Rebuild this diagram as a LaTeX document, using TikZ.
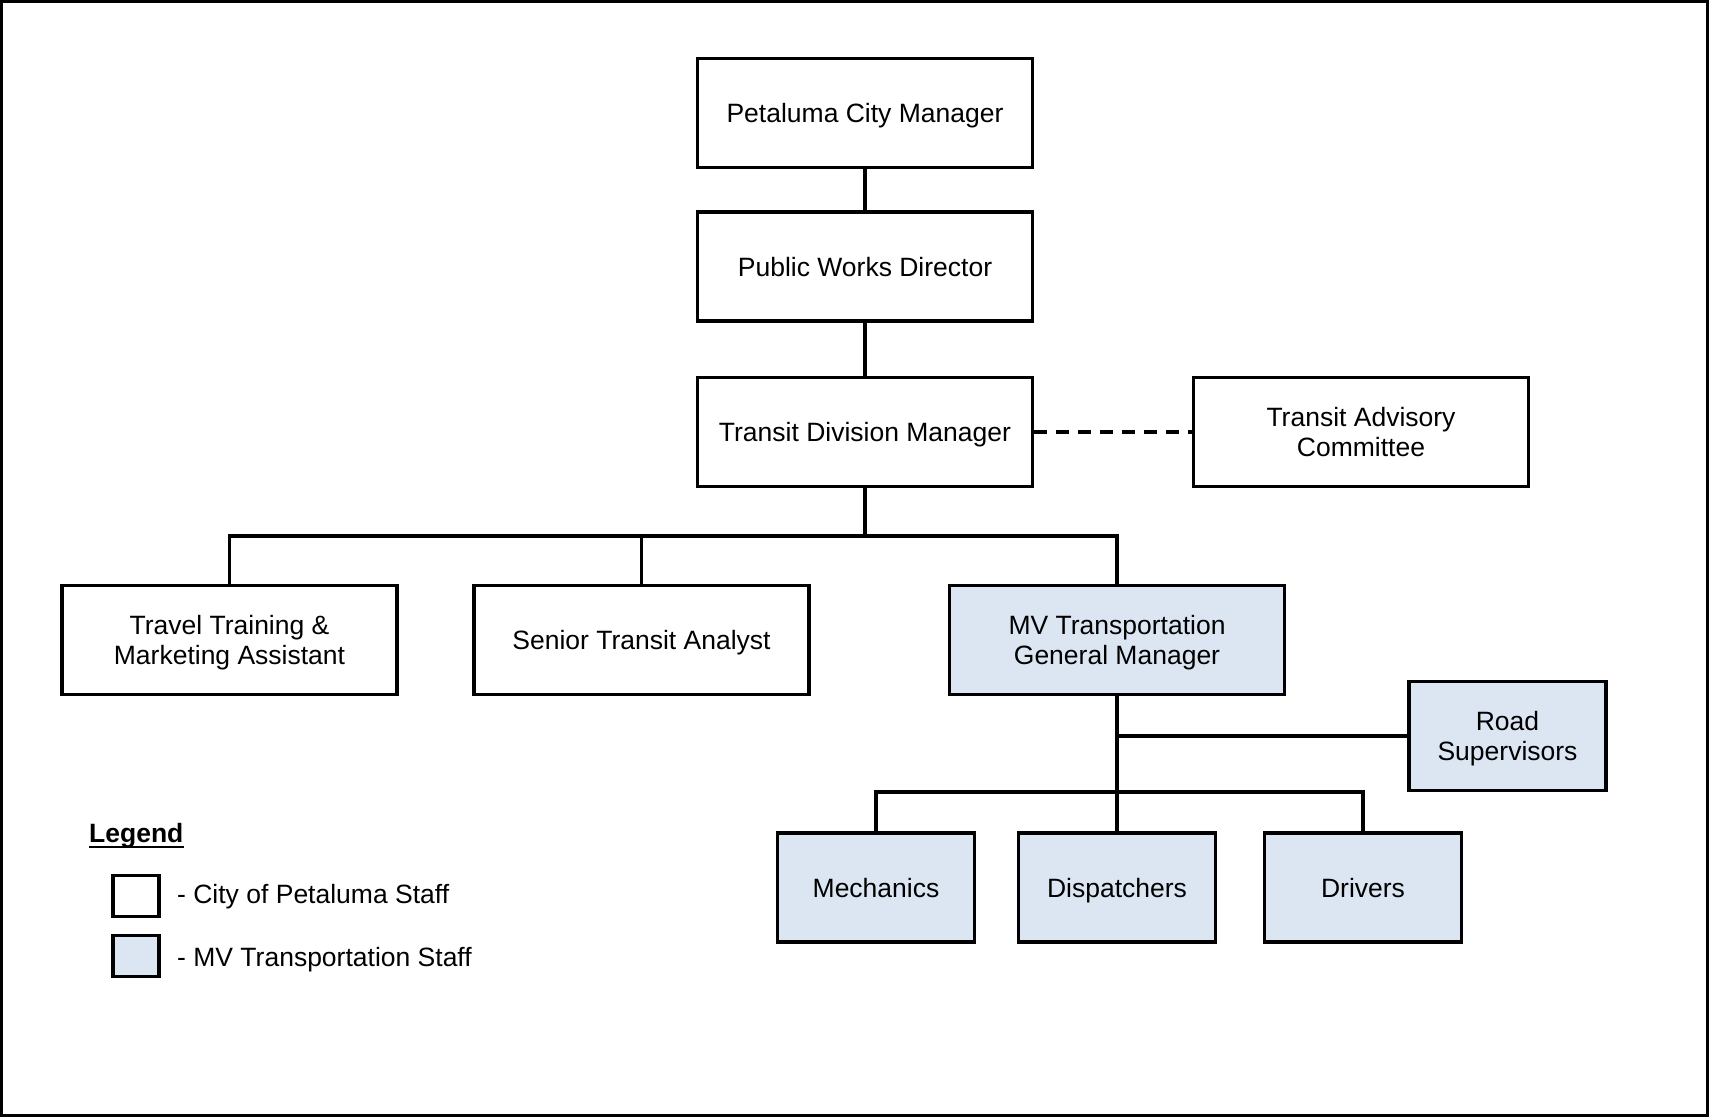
\documentclass[tikz,border=0pt]{standalone}
\usepackage{fontspec}
\setmainfont{Liberation Sans}
\definecolor{mvfill}{HTML}{DCE6F2}
\begin{document}
\begin{tikzpicture}[x=1pt,y=-1pt,
  every node/.style={font=\fontsize{26.5}{30.5}\selectfont},
  orgbox/.style={draw=black,line width=3.6pt,minimum width=335pt,minimum height=109pt,inner sep=0pt,align=center,text depth=0pt},
  smallbox/.style={orgbox,minimum width=197pt},
  mvbox/.style={fill=mvfill},
  link/.style={draw=black,line width=3.6pt},
  legbox/.style={draw=black,line width=3.6pt,minimum width=46pt,minimum height=41pt,inner sep=0pt}]
\useasboundingbox (0,0) rectangle (1709,1117);
\draw[line width=3pt] (1.5,1.5) rectangle (1707.5,1115.5);
% nodes
\node[orgbox] (pcm) at (865,113) {Petaluma City Manager};
\node[orgbox] (pwd) at (865,266.5) {Public Works Director};
\node[orgbox] (tdm) at (865,432) {Transit Division Manager};
\node[orgbox] (tac) at (1361,432) {Transit Advisory\\Committee};
\node[orgbox] (travel) at (229.5,640) {Travel Training \&\\Marketing Assistant};
\node[orgbox] (senior) at (641.5,640) {Senior Transit Analyst};
\node[orgbox,mvbox] (gm) at (1117,640) {MV Transportation\\General Manager};
\node[smallbox,mvbox] (road) at (1507.5,736) {Road\\Supervisors};
\node[smallbox,mvbox] (mech) at (876,887.5) {Mechanics};
\node[smallbox,mvbox] (disp) at (1117,887.5) {Dispatchers};
\node[smallbox,mvbox] (drivers) at (1363,887.5) {Drivers};
\coordinate (bus1) at (865,536);
\coordinate (bus2) at (1117,791.7);
% connectors
\draw[link] (pcm) -- (pwd);
\draw[link] (pwd) -- (tdm);
\draw[link] (tdm.south) -- (bus1);
\draw[link] (travel.north) |- (bus1) -| (gm.north);
\draw[link] (senior.north) -- (senior.north |- bus1);
\draw[link] (gm.south) -- (disp.north);
\draw[link] (mech.north) |- (bus2) -| (drivers.north);
\draw[link] (road.west) -- (road.west -| gm.south);
\draw[link,dash pattern=on 13pt off 9pt] (tdm.east) -- (tac.west);
% legend
\node[anchor=base west,inner sep=0pt,font=\fontsize{26.5}{30.5}\selectfont\bfseries] (leg) at (89,842) {Legend};
\draw[line width=2.2pt] ([yshift=-5pt]leg.base west) -- ([yshift=-5pt]leg.base east);
\node[legbox] (lb1) at (136,896) {};
\node[legbox,mvbox] (lb2) at (136,956) {};
\node[anchor=base west,inner sep=0pt] (lt1) at (177,903) {- City of Petaluma Staff};
\node[anchor=base west,inner sep=0pt] (lt2) at (177,966) {- MV Transportation Staff};
\end{tikzpicture}
\end{document}
